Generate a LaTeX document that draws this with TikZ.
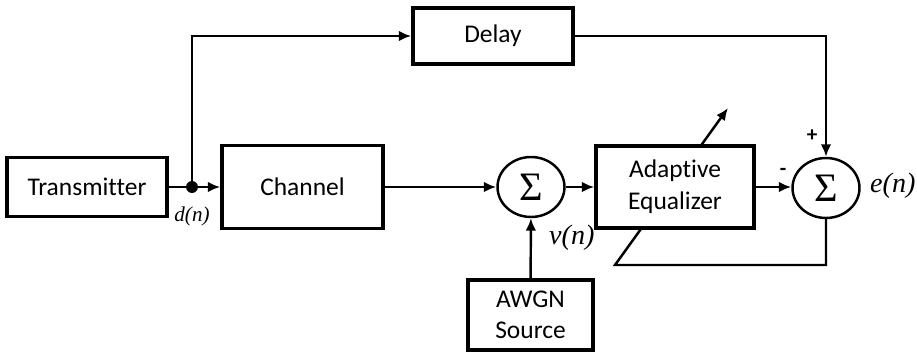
\documentclass[tikz,border=0pt]{standalone}
\usepackage{fontspec}
\setmainfont{Carlito}[Ligatures=NoCommon]
\newfontfamily\mathlike{Liberation Serif}
\usetikzlibrary{arrows.meta, positioning, calc, shapes.geometric, backgrounds}

\begin{document}
\begin{tikzpicture}[
    x=0.02cm, y=-0.02cm,
    >={Latex[length=7pt,width=6pt]},
    box/.style={draw, line width=2.1pt, fill=white, align=center, inner sep=0pt, font=\fontsize{14.5}{18}\selectfont},
    sumnode/.style={draw, ellipse, line width=1.4pt, fill=white, minimum width=1.34cm, minimum height=1.2cm, inner sep=0pt, font=\mathlike\fontsize{23}{23}\selectfont},
    flow/.style={->, line width=1.4pt},
    wire/.style={line width=1.4pt},
    sig/.style={font=\mathlike\itshape\fontsize{16}{16}\selectfont}
  ]
    \useasboundingbox (0,0) rectangle (917,358);

    \node[box, minimum width=3.2cm, minimum height=1.18cm] (tx) at (87,187) {Transmitter};
    \node[circle, fill, inner sep=0pt, minimum size=0.24cm] (dot) at (192,187) {};
    \node[box, minimum width=3.22cm, minimum height=1.66cm] (chan) at (302.5,187) {Channel};
    \node[box, minimum width=3.2cm, minimum height=1.12cm] (delay) at (493,36) {Delay};
    \node[sumnode] (sum1) at (531,187) {Σ};
    \node[box, minimum width=2.5cm, minimum height=1.4cm] (awgn) at (530.5,315) {AWGN\\Source};
    \node[sumnode] (sum2) at (826,188) {Σ};
    \coordinate (fb) at (615,265);
    \coordinate (tip) at (728,108);

    % adjustment arrow goes behind the equalizer
    \draw[flow] (sum2.south) |- (fb) -- (tip);
    \node[box, minimum width=3.16cm, minimum height=1.64cm] (eq) at (675,187) {Adaptive\\Equalizer};

    \draw[wire] (tx) -- (dot);
    \draw[flow] (dot) -- (chan);
    \draw[flow] (dot) |- (delay);
    \draw[flow] (delay) -| (sum2);
    \draw[flow] (chan) -- (sum1);
    \draw[flow] (awgn) -- (sum1);
    \draw[flow] (sum1) -- (eq);
    \draw[flow] (eq) -- (sum1 -| sum2.west);

    \node[sig, font=\mathlike\itshape\fontsize{12}{12}\selectfont] (dlabel) at (192,216) {d(n)};
    \node[sig, anchor=west] (vlabel) at (543,238) {v(n)};
    \node[sig, anchor=west] (elabel) at (864,186) {e(n)};
    \node[font=\bfseries\fontsize{12}{12}\selectfont] (plus) at (812,136) {+};
    \node[font=\bfseries\fontsize{12}{12}\selectfont] (minus) at (783,172) {-};
\end{tikzpicture}
\end{document}
